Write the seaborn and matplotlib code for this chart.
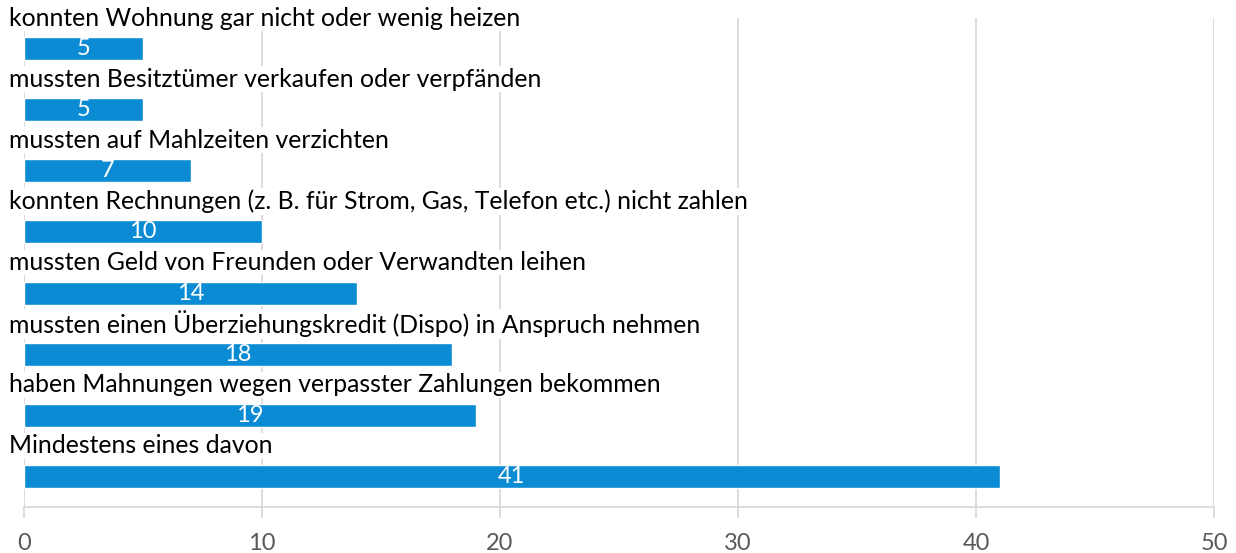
import matplotlib
matplotlib.use("Agg")
import matplotlib.pyplot as plt
import matplotlib.transforms as mtransforms
import seaborn as sns
import pandas as pd

categories = [
    "konnten Wohnung gar nicht oder wenig heizen",
    "mussten Besitztümer verkaufen oder verpfänden",
    "mussten auf Mahlzeiten verzichten",
    "konnten Rechnungen (z. B. für Strom, Gas, Telefon etc.) nicht zahlen",
    "mussten Geld von Freunden oder Verwandten leihen",
    "mussten einen Überziehungskredit (Dispo) in Anspruch nehmen",
    "haben Mahnungen wegen verpasster Zahlungen bekommen",
    "Mindestens eines davon",
]
values = [5, 5, 7, 10, 14, 18, 19, 41]
xticks = [0, 10, 20, 30, 40, 50]

sns.set_theme(style="white")
plt.rcParams["font.family"] = ["Lato", "DejaVu Sans"]

df = pd.DataFrame({"cat": categories, "val": values})

W, H = 1236, 553
fig = plt.figure(figsize=(W / 100, H / 100), dpi=100)
ax = fig.add_axes([24 / W, (H - 507) / H, (1214 - 24) / W, (507 - 18) / H])

BLUE = "#0A8BD3"
GRID = "#D9D9D9"

sns.barplot(data=df, x="val", y="cat", order=categories, orient="h",
            color=BLUE, saturation=1, width=0.375, ax=ax, zorder=2)

ax.set_xlim(0, 50)
ax.set_ylim(len(categories) - 0.5, -0.5)
ax.set_xticks(xticks)
ax.set_xticklabels([str(t) for t in xticks], fontsize=17, color="#595959")
ax.set_yticks([])
ax.set_xlabel("")
ax.set_ylabel("")
ax.xaxis.grid(True, color=GRID, linewidth=1.3, zorder=0)
ax.set_axisbelow(True)
ax.tick_params(axis="x", which="major", bottom=True, length=8, width=1.3,
               color=GRID, pad=11)
for s in ["top", "right", "left"]:
    ax.spines[s].set_visible(False)
ax.spines["bottom"].set_color(GRID)
ax.spines["bottom"].set_linewidth(1.3)

for c in ax.containers:
    ax.bar_label(c, labels=[str(v) for v in values], label_type="center",
                 color="white", fontsize=17)

trans = mtransforms.blended_transform_factory(ax.transAxes, ax.transData)
for i, cat in enumerate(categories):
    ax.text(-15 / 1190, i - 0.5, cat, transform=trans, ha="left", va="center",
            fontsize=17.8, color="#000000", clip_on=False, zorder=3,
            bbox=dict(facecolor="white", edgecolor="none", pad=1.0))

fig.savefig("out.png", dpi=100, facecolor="white")
